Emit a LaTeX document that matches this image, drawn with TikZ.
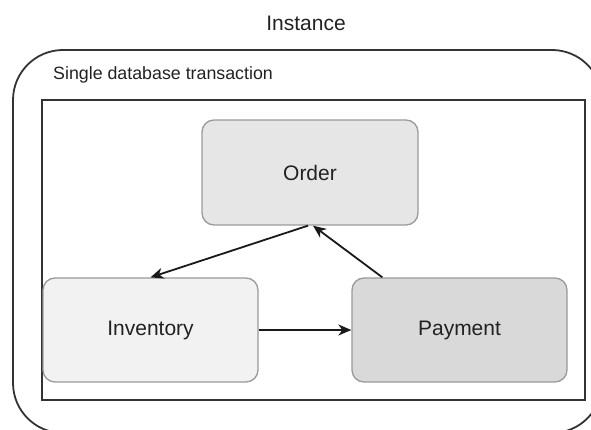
\documentclass[tikz,border=0pt]{standalone}
\usepackage{fontspec}
\setmainfont{Liberation Sans}
\usetikzlibrary{arrows.meta}
\definecolor{txt}{HTML}{222222}
\definecolor{frame}{HTML}{333333}
\definecolor{boxline}{HTML}{9A9A9A}
\definecolor{fillA}{HTML}{E6E6E6}
\definecolor{fillB}{HTML}{F2F2F2}
\definecolor{fillC}{HTML}{D9D9D9}
\tikzset{
  boxstyle/.style={draw=boxline, line width=1.3pt, rounded corners=12pt,
    minimum width=215pt, minimum height=104pt, inner sep=0pt,
    font=\fontsize{21}{24}\selectfont, text=txt},
  arr/.style={draw=black!90, line width=1.8pt, -{Stealth[length=13pt,width=11pt,inset=4pt]}},
  lbl/.style={text=txt, inner sep=0pt}
}
\begin{document}
\begin{tikzpicture}[x=1pt,y=-1pt]
\useasboundingbox (0,0) rectangle (591,430);
\clip (0,0) rectangle (591,430);
% outer instance container
\draw[frame, line width=1.8pt, rounded corners=50pt] (13,50) rectangle (602,433);
\node[lbl, font=\fontsize{21}{24}\selectfont] (inst) at (306,23) {Instance};
% inner transaction box
\draw[frame, line width=1.8pt] (42,100) rectangle (585,400);
\node[lbl, anchor=west, font=\fontsize{17.8}{20}\selectfont] (tx) at (53,75) {Single database transaction};
% nodes
\node[boxstyle, fill=fillA, minimum width=216pt, minimum height=105pt] (order) at (310,172.5) {Order};
\node[boxstyle, fill=fillB, minimum width=215pt] (inv) at (150.5,330) {Inventory};
\node[boxstyle, fill=fillC, minimum width=215pt] (pay) at (459.5,330) {Payment};
% connectors
\coordinate (ordin) at ([xshift=3pt]order.south);
\coordinate (paystart) at ([xshift=31pt]pay.north west);
\draw[arr] ([xshift=-2pt]order.south) -- (inv.north);
\draw[arr] (paystart) -- (ordin);
\draw[arr] (inv.east) -- (pay.west);
\end{tikzpicture}
\end{document}
